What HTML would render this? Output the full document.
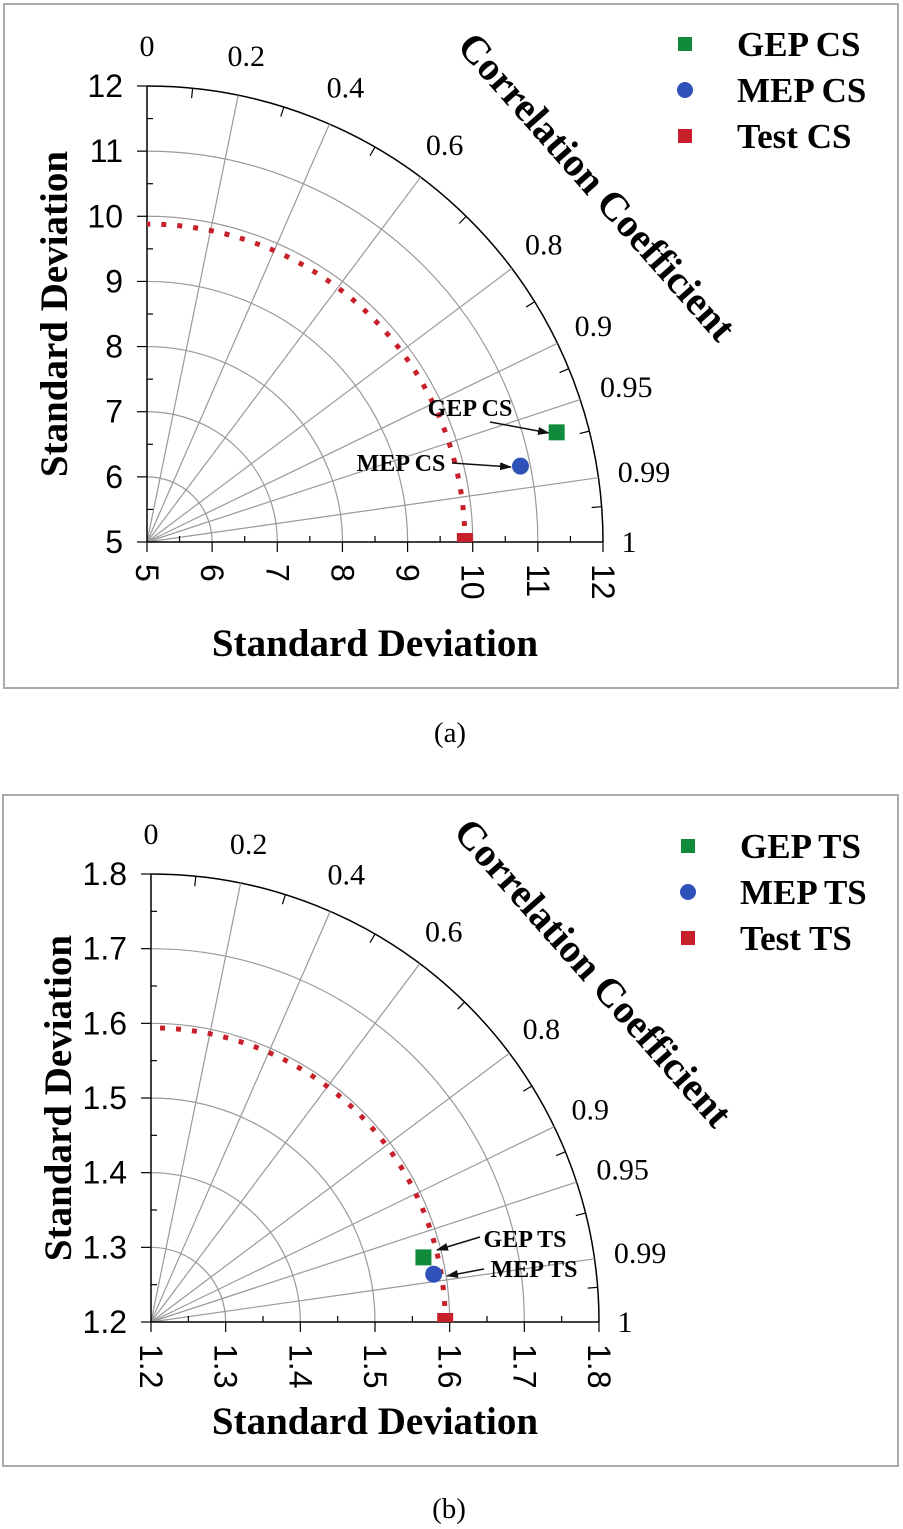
<!DOCTYPE html>
<html><head><meta charset="utf-8">
<style>
html,body{margin:0;padding:0;background:#fff;}
svg{display:block;}
.serif{font-family:"Liberation Serif",serif;}
.sans{font-family:"Liberation Sans",sans-serif;}
</style></head>
<body>
<svg id="chart" width="903" height="1529" viewBox="0 0 903 1529" xmlns="http://www.w3.org/2000/svg">
<defs>
<marker id="ah" markerWidth="12" markerHeight="8" refX="11" refY="4" orient="auto" markerUnits="userSpaceOnUse" viewBox="0 0 12 8">
<path d="M0,0 L12,4 L0,8 Z" fill="#111"/>
</marker>
</defs>
<rect x="4" y="4" width="894" height="684" fill="none" stroke="#aaa" stroke-width="2"/>
<text x="450" y="742" class="serif" font-size="29" text-anchor="middle">(a)</text>
<rect x="3" y="795" width="895" height="671" fill="none" stroke="#aaa" stroke-width="2"/>
<text x="449" y="1518" class="serif" font-size="29" text-anchor="middle">(b)</text>
<g id="pa"></g>
<g id="pb"></g>
</svg>
<script>
// ---- Data: panel (a) compressive strength ----
const stdTicksA = [5,6,7,8,9,10,11,12];
const stdLabelsA = ["5","6","7","8","9","10","11","12"];
const seriesNamesA = ["GEP CS","MEP CS","Test CS"];
const stdValuesA = [11.51, 10.85, 9.88];
const corrValuesA = [0.966, 0.980, 1.0];
const refStdA = 9.88;
// ---- Data: panel (b) tensile strength ----
const stdTicksB = [1.2,1.3,1.4,1.5,1.6,1.7,1.8];
const stdLabelsB = ["1.2","1.3","1.4","1.5","1.6","1.7","1.8"];
const seriesNamesB = ["GEP TS","MEP TS","Test TS"];
const stdValuesB = [1.575, 1.584, 1.594];
const corrValuesB = [0.973, 0.986, 1.0];
const refStdB = 1.594;
// ---- shared correlation axis ----
const corrLines = [0.2,0.4,0.6,0.8,0.9,0.95,0.99];
const corrMinor = [0.1,0.3,0.5,0.7,0.85,0.925,0.97,0.997];
const corrLabels = ["0","0.2","0.4","0.6","0.8","0.9","0.95","0.99","1"];
const corrLabelVals = [0,0.2,0.4,0.6,0.8,0.9,0.95,0.99,1];

const NS="http://www.w3.org/2000/svg";
function mk(parent,tag,attrs,text){
  const e=document.createElementNS(NS,tag);
  for(const k in attrs) e.setAttribute(k,attrs[k]);
  if(text!==undefined) e.textContent=text;
  parent.appendChild(e); return e;
}

function drawTaylor(g, cfg){
  const {ox,oy,R,ticks,labels,names,stds,corrs,refStd,legX,legY,annots} = cfg;
  const mn=ticks[0], mx=ticks[ticks.length-1];
  const k=R/(mx-mn);
  const step=ticks[1]-ticks[0];
  const rad = s => (s-mn)*k;
  const pt = (r,c) => { const t=Math.acos(Math.min(1,c)); return [ox+r*Math.cos(t), oy-r*Math.sin(t)]; };

  ticks.forEach((s,i)=>{
    if(i===0) return;
    const r=rad(s);
    const last = i===ticks.length-1;
    const a=mk(g,'path',{d:`M${ox+r},${oy} A${r},${r} 0 0 0 ${ox},${oy-r}`,fill:'none',stroke:last?'#000':'#999','stroke-width':last?1.5:1.2});
    
    
  });
  corrLines.forEach(c=>{
    const [x,y]=pt(R,c);
    const l=mk(g,'line',{x1:ox,y1:oy,x2:x,y2:y,stroke:'#999','stroke-width':1.2});
    
    
  });
  corrMinor.forEach(c=>{
    const [x1,y1]=pt(R,c),[x2,y2]=pt(R-10,c);
    const l=mk(g,'line',{x1,y1,x2,y2,stroke:'#000','stroke-width':1.2});
    
    
  });
  const ax=mk(g,'line',{x1:ox,y1:oy,x2:ox+R,y2:oy,stroke:'#000','stroke-width':1.5});
  
  
  const ay=mk(g,'line',{x1:ox,y1:oy,x2:ox,y2:oy-R,stroke:'#000','stroke-width':1.5});
  
  
  ticks.forEach((s,i)=>{
    const r=rad(s);
    const tx=mk(g,'line',{x1:ox+r,y1:oy,x2:ox+r,y2:oy+10,stroke:'#000','stroke-width':1.2});
    
    
    const ty=mk(g,'line',{x1:ox-10,y1:oy-r,x2:ox,y2:oy-r,stroke:'#000','stroke-width':1.2});
    
    
    const yl=mk(g,'text',{x:ox-24,y:oy-r+11,'text-anchor':'end','font-size':32,class:'sans'},labels[i]);
    
    
    const xl=mk(g,'text',{x:0,y:0,transform:`translate(${ox+r-11},${oy+22}) rotate(90)`,'font-size':32,class:'sans'},labels[i]);
    
    
    if(i<ticks.length-1){
      const m1=mk(g,'line',{x1:ox+r+k*step/2,y1:oy,x2:ox+r+k*step/2,y2:oy-6,stroke:'#000','stroke-width':1.2});
      
      
      const m2=mk(g,'line',{x1:ox,y1:oy-r-k*step/2,x2:ox+6,y2:oy-r-k*step/2,stroke:'#000','stroke-width':1.2});
      
      
    }
  });
  corrLabelVals.forEach((c,i)=>{
    let [x,y]=pt(R+40,c);
    let dx = c>=0.99 ? (c===1?-14:6) : (c===0.95?8:0);
    const t=mk(g,'text',{x:x+dx, y:y+10,'text-anchor':'middle','font-size':30,class:'serif'},corrLabels[i]);
    
    
  });
  const yt=mk(g,'text',{x:0,y:0,transform:`translate(${ox-80},${oy-R/2}) rotate(-90)`,'text-anchor':'middle','font-size':39,'font-weight':'bold',class:'serif'},'Standard Deviation');
  
  
  const xt=mk(g,'text',{x:ox+R/2,y:oy+cfg.xTitleDy,'text-anchor':'middle','font-size':39,'font-weight':'bold',class:'serif'},'Standard Deviation');
  
  
  const ct=mk(g,'text',{x:0,y:0,transform:`translate(${ox+R*0.965},${oy-R*0.76}) rotate(48.5)`,'text-anchor':'middle','font-size':40,'font-weight':'bold',class:'serif'},'Correlation Coefficient');
  
  
  const rr=rad(refStd);
  const ra=mk(g,'path',{d:`M${ox+rr},${oy} A${rr},${rr} 0 0 0 ${ox},${oy-rr}`,fill:'none',stroke:'#c8202a','stroke-width':5,'stroke-dasharray':'5 11'});
  
  
  annots.forEach(a=>{
    const t=mk(g,'text',{x:a.tx,y:a.ty,'text-anchor':'middle','font-size':24,'font-weight':'bold',class:'serif'},a.label);
    
    
    const l=mk(g,'line',{x1:a.x1,y1:a.y1,x2:a.x2,y2:a.y2,stroke:'#111','stroke-width':1.5,'marker-end':'url(#ah)'});
    
    
  });
  const colors=['#118a3c','#2f52b8','#c8202a'];
  names.forEach((n,i)=>{
    const [x,y]=pt(rad(stds[i]),corrs[i]);
    let m;
    if(i===0) m=mk(g,'rect',{x:x-8,y:y-8,width:16,height:16,fill:colors[0]});
    else if(i===1) m=mk(g,'circle',{cx:x,cy:y,r:8.5,fill:colors[1]});
    else m=mk(g,'rect',{x:x-8,y:y-9,width:16,height:9,fill:colors[2]});
    
    
    const ly=legY+i*46;
    let lm;
    if(i===1) lm=mk(g,'circle',{cx:legX,cy:ly,r:8,fill:colors[1]});
    else lm=mk(g,'rect',{x:legX-7,y:ly-7,width:14,height:14,fill:colors[i]});
    
    
    const lt=mk(g,'text',{x:legX+52,y:ly+12,'font-size':35,'font-weight':'bold',class:'serif'},n);
    
    
  });
}

drawTaylor(document.getElementById('pa'),{
  ox:147,oy:542,R:456,ticks:stdTicksA,labels:stdLabelsA,names:seriesNamesA,
  stds:stdValuesA,corrs:corrValuesA,refStd:refStdA,legX:685,legY:44,xTitleDy:114,
  annots:[{label:'GEP CS',tx:470,ty:416,x1:490,y1:422,x2:549,y2:433},
          {label:'MEP CS',tx:401,ty:471,x1:452,y1:463,x2:511,y2:467}]
});
drawTaylor(document.getElementById('pb'),{
  ox:151,oy:1322,R:448,ticks:stdTicksB,labels:stdLabelsB,names:seriesNamesB,
  stds:stdValuesB,corrs:corrValuesB,refStd:refStdB,legX:688,legY:846,xTitleDy:112,
  annots:[{label:'GEP TS',tx:525,ty:1247,x1:480,y1:1237,x2:437,y2:1250},
          {label:'MEP TS',tx:534,ty:1277,x1:484,y1:1269,x2:447,y2:1276}]
});
</script>
</body></html>
